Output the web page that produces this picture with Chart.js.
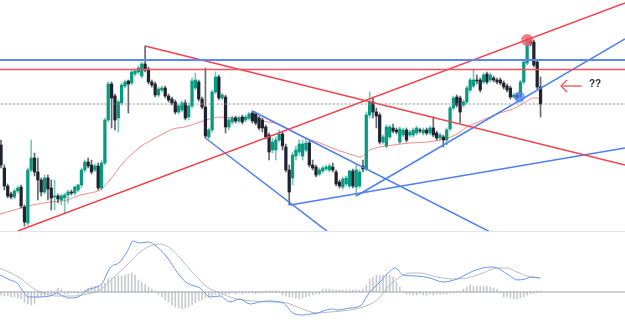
<!DOCTYPE html>
<html lang="en">
<head>
<meta charset="UTF-8">
<title>Price chart with trend lines and MACD</title>
<script src="https://cdn.jsdelivr.net/npm/chart.js"></script>
<style>
    body { margin: 0; background: #fff; }
    .wrap { position: relative; width: 625px; height: 324px; overflow: hidden; background: #fff; }
    #priceChart { position: absolute; left: 0; top: 0; }
    .sep { position: absolute; left: 0; top: 231px; width: 625px; height: 1px; background: #e3e5ec; }
    #macdChart { position: absolute; left: 0; top: 232px; }
    .note { position: absolute; left: 589px; top: 78px; font: bold 10px "Liberation Sans", Arial, sans-serif; color: #2a2e39; }
</style>
</head>
<body>
<div class="wrap">
    <canvas id="priceChart" width="625" height="231"></canvas>
    <div class="sep"></div>
    <canvas id="macdChart" width="625" height="92"></canvas>
    <span class="note">??</span>
</div>

<script>
    // candles, one per bar index
    const openP = [
        87,64,46,38,35,41,45,25,9,62, 74,60,52,40,54,44,35,36,32,34,
        37,40,39,42,47,62,70,67,62,66, 44,69,112,148,136,114,129,146,151,149,
        158,160,156,168,163,150,148,137,142,144, 136,133,130,120,122,129,115,126,144,150,
        133,125,95,102,140,155,134,135,105,110, 114,111,115,112,114,119,118,114,112,105,
        97,82,82,92,98,85,62,54,76,80, 76,82,89,67,65,58,61,63,62,65,
        60,50,45,48,46,61,45,46,66,63, 117,130,120,117,90,86,95,104,102,90,
        97,102,97,97,99,102,99,102,99,104, 99,94,95,92,103,124,135,134,127,130,
        142,146,152,152,150,158,152,154,152,152, 149,146,144,135,137,135,150,169,191,190,
        170,145
    ];
    const highP = [
        92,67,48,40,43,46,47,27,64,92, 79,74,54,57,57,52,52,38,38,39,
        42,42,46,48,64,72,74,72,68,69, 72,114,150,150,138,132,149,152,152,162,
        162,166,170,186,165,152,150,145,146,146, 138,135,132,128,131,132,129,154,159,152,
        135,164,104,142,160,157,139,137,114,116, 116,116,117,117,120,121,120,116,114,107,
        99,94,95,102,100,88,67,80,86,92, 92,94,91,72,67,64,66,67,68,69,
        62,52,55,56,62,63,67,62,72,120, 140,135,124,119,97,107,107,108,104,105,
        104,104,102,104,106,104,104,104,106,115, 101,99,97,104,126,136,137,136,132,146,
        154,162,157,154,159,160,159,156,154,154, 151,148,146,139,139,152,172,195,194,192,
        172,155
    ];
    const lowP = [
        64,42,34,33,33,39,24,6,6,60, 56,32,36,38,32,22,22,29,27,19,
        29,37,37,40,44,60,64,58,60,42, 42,67,110,104,102,100,127,144,119,147,
        156,158,154,160,148,145,135,135,140,134, 130,127,118,118,120,112,112,124,142,131,
        123,94,93,100,138,132,132,99,102,108, 109,109,108,110,112,109,107,102,100,93,
        72,79,72,90,82,60,27,47,72,77, 72,80,65,62,55,56,59,61,60,60,
        46,44,43,46,44,44,36,44,60,61, 114,114,104,88,88,84,93,99,98,88,
        95,90,95,95,97,99,97,97,97,95, 92,92,85,87,101,122,125,109,125,128,
        140,144,148,140,148,148,150,150,148,147, 143,140,133,134,132,133,148,167,186,165,
        143,115
    ];
    const closeP = [
        67,46,36,35,41,44,26,10,62,74, 60,52,40,54,43,34,36,33,36,37,
        40,39,45,47,62,70,66,60,66,44, 69,112,148,134,112,130,147,150,148,160,
        161,164,168,162,150,147,137,143,144,136, 132,129,120,126,129,114,126,151,152,133,
        125,96,102,140,155,134,137,105,112,114, 111,114,110,115,118,111,109,104,104,95,
        80,90,92,98,86,62,40,77,82,88, 88,89,67,64,57,62,64,65,66,62,
        48,46,53,54,61,46,62,60,63,117, 130,120,116,90,95,105,105,101,100,103,
        102,92,100,102,104,101,102,99,104,97, 94,97,92,102,124,134,127,120,130,144,
        152,152,151,142,157,150,157,152,150,149, 145,142,135,137,134,150,170,191,188,167,
        145,128
    ];

    // moving average
    const maIdx = [-0.3,9.5,14.6,19.7,23.6,26.6,29.5,32.5,36.4,41.5,46.6,51.3,54.9,59.4,63.3,65.4,70.4,75.2,79.4,81.8,86.2,90.1,95.2,100.3,105,107.1,110.1,113.1,117,122.1,127.1,131,135.5,139.1,143.8,148.9,151.9,154,157,158.8,160.2,161.1];
    const maVal = [18,27,30,32,37,39,42,52,69,85,95,103,105,110,114,115,114,114,110,109,102,95,89,82,77,75,82,85,87,89,90,92,97,105,112,119,122,125,131,134,134,131];

    // drawn levels and trend lines [barIndex, price]
    const blueLevel = 172;
    const redLevel = 162.5;
    const lastPriceLevel = 128;
    const redFall = [[43, 186], [186.2, 67]];
    const redRise = [[5, 1], [186.2, 229]];
    const blueFallA = [[61, 94], [97.6, 0]];
    const blueFallB = [[75, 121], [146, 0]];
    const blueBase = [[86.3, 27], [186.2, 84]];
    const blueRise = [[106, 36], [186.2, 193]];
    const topMark = [157, 192];
    const touchMark = [154.7, 135];
    const arrowShaft = [[173.3, 146], [167.1, 146]];
    const arrowHead = [[168.9, 152], [167.1, 146], [168.9, 140]];

    // MACD pane
    const histVal = [
        -3,-4,-4,-5,-5,-6,-7,-10,-12,-13, -12,-6,-5,-4,-3,-3,-2,4,3,-2,
        -2,-1,-1,-2,-1,2,4,5,6,6, 7,9,13,14,15,16,16,17,18,19,
        17,12,10,8,5,3,1,-2,-5,-8, -10,-13,-15,-16,-17,-16,-15,-13,-11,-9,
        -8,-6,-5,-4,-3,-3,-3,-2,-2,-1, -2,-1,-2,-1,-1,-1,-2,-1,-1,1,
        1,1,1,1,-3,-4,-5,-5,-6,-7, -6,-5,-4,-3,-2,-2,3,3,3,2,
        2,2,2,2,2,2,2,2,3,7, 13,15,17,17,17,17,17,15,10,5,
        1,-2,-2,-3,-3,-2,-3,-3,-2,-3, -2,-2,-2,-2,-1,-1,0.5,1,3,5,
        7,6,6,6,6,6,5,4,3,-1, -5,-5,-6,-7,-7,-6,-5,-3,-2,-1,
        1,0.5
    ];
    const macdIdx = [-0.3,2.7,4.8,6.3,8.1,9.5,14.6,16.7,18.5,20.6,23,25.7,28.6,30.1,32.5,35.5,37.9,39.4,41.5,43.9,46.6,49.5,52.5,55.5,59.4,62.4,65.4,68.3,71.3,74.3,77.3,79.4,84.2,87.1,90.1,92.2,94.6,96.1,98.8,100.3,104.1,107.1,110.1,113.1,115.5,117.6,120,124.1,128,131.9,136.1,138.5,140.9,143.8,145.9,148,151,154.3,156.4,158.5,160.8];
    const macdVal = [17,12,9,2,-5,-5,-4,-1,-4,-6,-5,2,5,8,24,30,42,51,49,50,45,35,20,9,4,-5,-4,-10,-7,-12,-10,-9,-11,-21,-23,-22,-21,-19,-17,-18,-16,-14,0,10,19,24,17,16,14,10,13,17,21,24,25,24,18,12,13,15,14];
    const sigIdx = [-0.3,5.7,9.5,12.5,16.7,21.5,25.7,29.5,33.4,37.6,41.5,44.5,47.5,50.4,53.4,57.3,61.5,65.4,69.2,75.2,81.2,85.3,89.2,94.3,98.2,104.1,108,112.2,116.1,119.1,122.1,125,130.1,134.9,139.1,143.8,148,151,154,157.9,160.8];
    const sigVal = [24,14,4,-1,-4,-4,-2,2,14,27,40,46,48,44,34,19,5,-1,-6,-9,-10,-11,-16,-21,-20,-18,-15,-8,7,15,19,19,15,13,14,19,24,24,20,15,14];

    const X_MIN = -0.3, X_MAX = 186.2;
    const BULL = '#089981', BEAR = '#1f2330';
    const RED = '#f2434f', BLUE = '#4d7ef2';

    const isUp = openP.map((o, i) => closeP[i] >= o);

    function seg(points, color, width, dash) {
        return {
            type: 'line',
            data: points.map(p => ({ x: p[0], y: p[1] })),
            borderColor: color,
            borderWidth: width,
            borderDash: dash || [],
            pointRadius: 0,
            fill: false,
            tension: 0,
            order: 0
        };
    }
    function level(v, color, width, dash) {
        return seg([[X_MIN - 1, v], [X_MAX + 1, v]], color, width, dash);
    }
    function dot(p, color, r) {
        return {
            type: 'line',
            data: [{ x: p[0], y: p[1] }],
            showLine: false,
            pointRadius: r,
            pointBorderWidth: 0,
            pointBackgroundColor: color,
            order: 0
        };
    }

    const baseOptions = (yMin, yMax) => ({
        responsive: false,
        animation: false,
        layout: { padding: 0, autoPadding: false },
        plugins: { legend: { display: false }, tooltip: { enabled: false } },
        scales: {
            x: { type: 'linear', min: X_MIN, max: X_MAX, display: false, offset: false },
            y: { min: yMin, max: yMax, display: false }
        }
    });

    new Chart(document.getElementById('priceChart'), {
        type: 'bar',
        data: {
            datasets: [
                level(blueLevel, '#5b87f3', 1.8),
                level(redLevel, '#f2505c', 1.6),
                level(lastPriceLevel, '#8a8d95', 1, [2, 2]),
                seg(redFall, RED, 1.5),
                seg(redRise, RED, 1.5),
                seg(blueFallA, BLUE, 1.5),
                seg(blueFallB, BLUE, 1.5),
                seg(blueBase, BLUE, 1.5),
                seg(blueRise, BLUE, 1.5),
                seg(arrowShaft, '#f2505c', 1.3),
                seg(arrowHead, '#f2505c', 1.3),
                dot(topMark, 'rgba(242,95,105,0.8)', 6),
                dot(touchMark, 'rgba(80,130,245,0.7)', 5.5),
                {
                    type: 'bar',
                    data: openP.map((o, i) => ({ x: i, y: [o, closeP[i]] })),
                    backgroundColor: isUp.map(u => u ? BULL : BEAR),
                    barThickness: 2.6,
                    minBarLength: 1,
                    grouped: false,
                    borderWidth: 0,
                    order: 1
                },
                {
                    type: 'bar',
                    data: lowP.map((l, i) => ({ x: i, y: [l, highP[i]] })),
                    backgroundColor: isUp.map(u => u ? 'rgba(8,153,129,0.55)' : 'rgba(50,54,64,0.75)'),
                    barThickness: 1,
                    grouped: false,
                    borderWidth: 0,
                    order: 2
                },
                {
                    type: 'line',
                    data: maIdx.map((x, i) => ({ x: x, y: maVal[i] })),
                    borderColor: 'rgba(242,110,110,0.8)',
                    borderWidth: 1,
                    pointRadius: 0,
                    cubicInterpolationMode: 'monotone',
                    order: 3
                }
            ]
        },
        options: baseOptions(1, 232)
    });

    new Chart(document.getElementById('macdChart'), {
        type: 'bar',
        data: {
            datasets: [
                level(0, '#a3a6ae', 1),
                {
                    type: 'line',
                    data: macdIdx.map((x, i) => ({ x: x, y: macdVal[i] })),
                    borderColor: '#6a95f2',
                    borderWidth: 1,
                    pointRadius: 0,
                    cubicInterpolationMode: 'monotone',
                    order: 0
                },
                {
                    type: 'line',
                    data: sigIdx.map((x, i) => ({ x: x, y: sigVal[i] })),
                    borderColor: '#b9bbc1',
                    borderWidth: 1,
                    pointRadius: 0,
                    cubicInterpolationMode: 'monotone',
                    order: 1
                },
                {
                    type: 'bar',
                    data: histVal.map((v, i) => ({ x: i, y: v })),
                    backgroundColor: '#c9cbd0',
                    barThickness: 1,
                    grouped: false,
                    order: 2
                }
            ]
        },
        options: baseOptions(-32, 60)
    });
</script>
</body>
</html>
